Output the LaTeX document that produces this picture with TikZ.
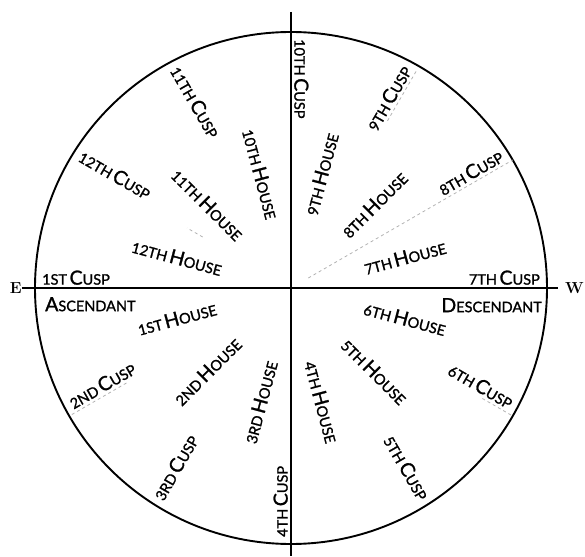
\documentclass[tikz,border=0pt]{standalone}
\usepackage{fontspec}
\newfontfamily\lab[FakeBold=1.3]{Lato}
\usetikzlibrary{positioning}
\newcommand{\sml}[1]{{\fontsize{14.5}{15}\selectfont #1}}
\newcommand{\bigc}[1]{{\fontsize{19.5}{20}\selectfont #1}}
\newcommand{\house}{\bigc{H}\sml{OUSE}}
\newcommand{\cusp}{\bigc{C}\sml{USP}}

\begin{document}
\begin{tikzpicture}[
  x=1pt, y=1pt,
  font=\lab,
  rim/.style={line width=1.9pt},
  axis/.style={line width=1.3pt},
  faint/.style={black!30, dashed, line width=0.8pt},
  pole/.style={font=\fontsize{16}{16}\selectfont\rmfamily\bfseries, inner sep=0pt},
  hlab/.style={inner sep=1pt},
  cl/.style={inner sep=3pt, anchor=south west},
  cr/.style={inner sep=3pt, anchor=south east},
  side/.style={inner sep=2pt}
]
\useasboundingbox (-291,-268) rectangle (294,288);
\draw[rim] (0,0) circle (256);
\coordinate (ztop) at (0,276);
\coordinate (zbot) at (0,-268);
\coordinate (wend) at (267,0);
\node[pole, anchor=east] (east) at (-269,0) {E};
\node[pole, anchor=west] (west) at (274,0) {W};
\draw[axis] (east.east) -- (wend);
\draw[axis] (ztop) -- (zbot);
% traces of the cusp lines
\draw[faint] (30:20) -- (30:256);
\draw[faint] (60:193) -- (60:250);
\draw[faint] (150:102) -- (150:120);
\draw[faint] (210:190) -- (210:254);
\draw[faint] (-30:221) -- (-30:256);
% cusps
\node[cl, rotate=0] (c1) at (180:252) {\sml{1ST}~\cusp};
\node[cl, rotate=-30] (c12) at (150:252) {\sml{12TH}~\cusp};
\node[cl, rotate=-60] (c11) at (120:252) {\sml{11TH}~\cusp};
\node[cl, rotate=-90] (c10) at (90:252) {\sml{10TH}~\cusp};
\node[cr, rotate=60] (c9) at (60:252) {\sml{9TH}~\cusp};
\node[cr, rotate=30] (c8) at (30:252) {\sml{8TH}~\cusp};
\node[cr, rotate=0] (c7) at (0:252) {\sml{7TH}~\cusp};
\node[cr, rotate=-30] (c6) at (-30:252) {\sml{6TH}~\cusp};
\node[cr, rotate=-60] (c5) at (-60:252) {\sml{5TH}~\cusp};
\node[cl, rotate=90] (c4) at (-90:252) {\sml{4TH}~\cusp};
\node[cl, rotate=60] (c3) at (-120:252) {\sml{3RD}~\cusp};
\node[cl, rotate=30] (c2) at (-150:252) {\sml{2ND}~\cusp};
% houses
\node[hlab, rotate=15] (h1) at (195:118) {\sml{1ST}~\house};
\node[hlab, rotate=45] (h2) at (225:118) {\sml{2ND}~\house};
\node[hlab, rotate=75] (h3) at (255:118) {\sml{3RD}~\house};
\node[hlab, rotate=-75] (h4) at (285:118) {\sml{4TH}~\house};
\node[hlab, rotate=-45] (h5) at (315:118) {\sml{5TH}~\house};
\node[hlab, rotate=-15] (h6) at (345:118) {\sml{6TH}~\house};
\node[hlab, rotate=15] (h7) at (15:118) {\sml{7TH}~\house};
\node[hlab, rotate=45] (h8) at (45:118) {\sml{8TH}~\house};
\node[hlab, rotate=75] (h9) at (75:118) {\sml{9TH}~\house};
\node[hlab, rotate=-75] (h10) at (105:118) {\sml{10TH}~\house};
\node[hlab, rotate=-45] (h11) at (135:118) {\sml{11TH}~\house};
\node[hlab, rotate=-15] (h12) at (165:118) {\sml{12TH}~\house};
\node[side, anchor=north west] (asc) at (-248,-7) {\bigc{A}\sml{SCENDANT}};
\node[side, anchor=north east] (desc) at (253,-8) {\bigc{D}\sml{ESCENDANT}};
\end{tikzpicture}
\end{document}
